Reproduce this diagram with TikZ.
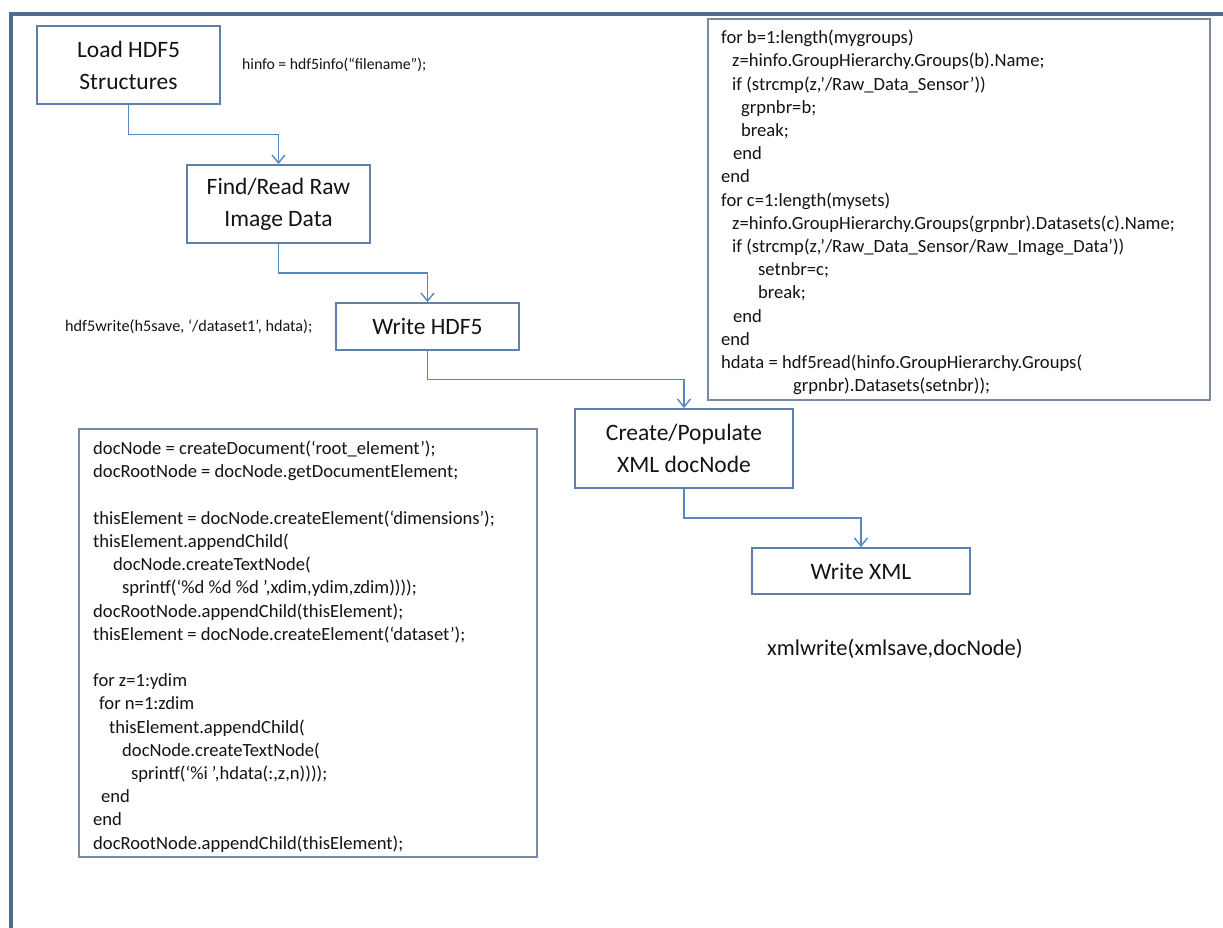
\documentclass[tikz,border=0pt]{standalone}
\usepackage{fontspec}
\setmainfont{Carlito}
\usetikzlibrary{arrows.meta,calc}
\definecolor{framec}{HTML}{4F6C94}
\definecolor{boxc}{HTML}{5F80AA}
\definecolor{arrc}{HTML}{5A87C2}
\definecolor{codeb}{HTML}{7A8AA0}
\definecolor{txt}{HTML}{141414}
\begin{document}
\begin{tikzpicture}[x=1pt,y=-1pt,
 stepbox/.style={draw=boxc,line width=1.8pt,align=center,text=txt,font=\fontsize{23.5}{32}\selectfont,inner sep=0pt},
 arr/.style={draw=arrc,line width=1.4pt,-{Straight Barb[length=8pt,width=13pt]}},
 codebox/.style={draw=codeb,line width=1.7pt,inner sep=0pt,anchor=north west},
 codetext/.style={anchor=north west,inner sep=0pt,align=left,text=txt,font=\fontsize{18.6}{23.2}\selectfont},
 note/.style={anchor=west,inner sep=0pt,text=txt}]
\useasboundingbox (0,0) rectangle (1223,928);
\fill[white] (0,0) rectangle (1223,928);
\draw[framec,line width=3.5pt] (1223,14) -- (11,14) -- (11,928);

% process boxes
\node[stepbox,minimum width=183pt,minimum height=78pt] (load) at (128.5,65) {Load HDF5\\Structures};
\node[stepbox,minimum width=183pt,minimum height=78pt] (find) at (278.5,204) {Find/Read Raw\\Image Data};
\node[stepbox,minimum width=183pt,minimum height=47pt] (wh5) at (427.5,326.5) {Write HDF5};
\node[stepbox,minimum width=218pt,minimum height=79pt] (create) at (684,448.5) {Create/Populate\\XML docNode};
\node[stepbox,minimum width=218pt,minimum height=46pt] (wxml) at (861,571) {Write XML};

% connectors
\draw[arr] (load.south) |- ($(load.south)!.5!(find.north)$) -| (find.north);
\draw[arr] (find.south) |- ($(find.south)!.5!(wh5.north)$) -| (wh5.north);
\draw[arr] (wh5.south) |- ($(wh5.south)!.5!(create.north)$) -| (create.north);
\draw[arr] (create.south) |- ($(create.south)!.5!(wxml.north)$) -| (wxml.north);

% notes
\node[note,font=\fontsize{15.7}{18}\selectfont] (n1) at (242,65) {hinfo = hdf5info(“filename”);};
\node[note,font=\fontsize{16.2}{18}\selectfont] (n2) at (65,327) {hdf5write(h5save, `/dataset1', hdata);};
\node[note,font=\fontsize{22.5}{26}\selectfont] (n3) at (767,649) {xmlwrite(xmlsave,docNode)};

% right code box
\node[codebox,minimum width=502pt,minimum height=381pt] (codeA) at (707,18) {};
\node[codetext] (codeAt) at (721,27.3) {\strut for b=1:length(mygroups)\\
\hspace*{11pt}z=hinfo.GroupHierarchy.Groups(b).Name;\\
\hspace*{11pt}if (strcmp(z,'/Raw\_Data\_Sensor'))\\
\hspace*{20pt}grpnbr=b;\\
\hspace*{20pt}break;\\
\hspace*{12pt}end\\
end\\
for c=1:length(mysets)\\
\hspace*{11pt}z=hinfo.GroupHierarchy.Groups(grpnbr).Datasets(c).Name;\\
\hspace*{11pt}if (strcmp(z,'/Raw\_Data\_Sensor/Raw\_Image\_Data'))\\
\hspace*{37pt}setnbr=c;\\
\hspace*{37pt}break;\\
\hspace*{12pt}end\\
end\\
hdata = hdf5read(hinfo.GroupHierarchy.Groups(\\
\hspace*{72pt}grpnbr).Datasets(setnbr));};

% left code box
\node[codebox,minimum width=458pt,minimum height=428pt] (codeB) at (78,428) {};
\node[codetext] (codeBt) at (93,438.3) {\strut docNode = createDocument(`root\_element');\\
docRootNode = docNode.getDocumentElement;\\
\mbox{}\\
thisElement = docNode.createElement(`dimensions');\\
thisElement.appendChild(\\
\hspace*{20pt}docNode.createTextNode(\\
\hspace*{29pt}sprintf(`\%d \%d \%d ',xdim,ydim,zdim))));\\
docRootNode.appendChild(thisElement);\\
thisElement = docNode.createElement(`dataset');\\
\mbox{}\\
for z=1:ydim\\
\hspace*{6pt}for n=1:zdim\\
\hspace*{16pt}thisElement.appendChild(\\
\hspace*{29pt}docNode.createTextNode(\\
\hspace*{38pt}sprintf(`\%i ',hdata(:,z,n))));\\
\hspace*{8pt}end\\
end\\
docRootNode.appendChild(thisElement);};
\end{tikzpicture}
\end{document}
